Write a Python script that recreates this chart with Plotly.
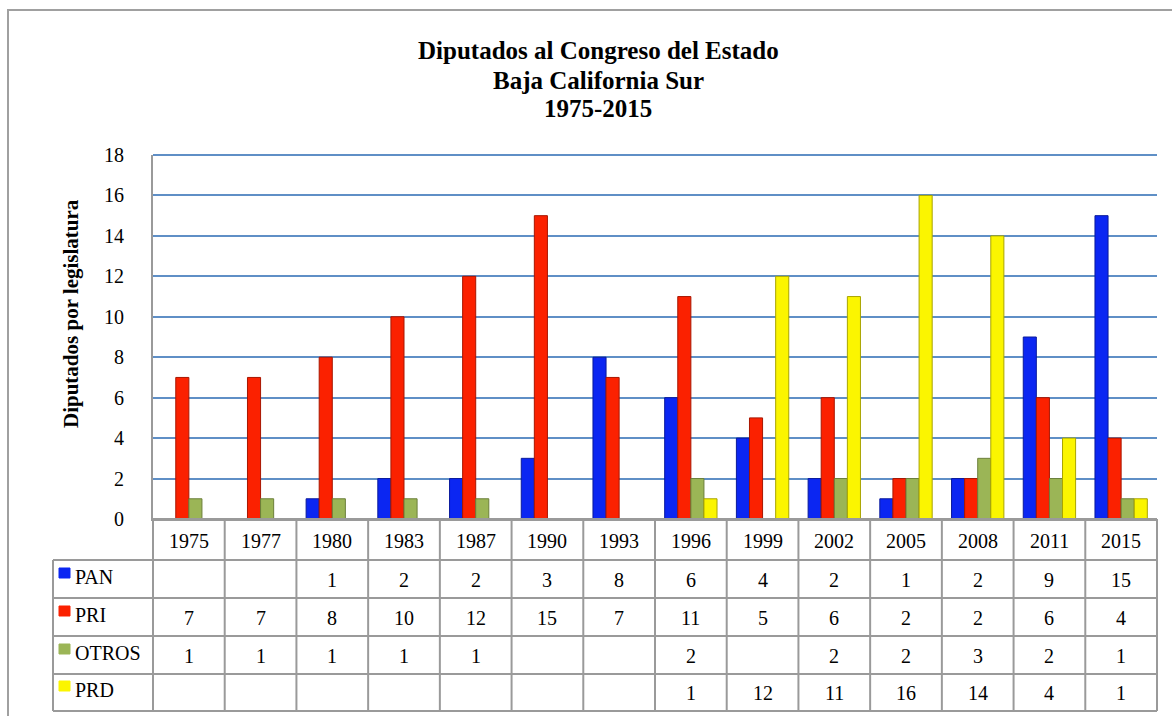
import plotly.graph_objects as go

# Data
years = ["1975", "1977", "1980", "1983", "1987", "1990", "1993",
         "1996", "1999", "2002", "2005", "2008", "2011", "2015"]
pan = [None, None, 1, 2, 2, 3, 8, 6, 4, 2, 1, 2, 9, 15]
pri = [7, 7, 8, 10, 12, 15, 7, 11, 5, 6, 2, 2, 6, 4]
otros = [1, 1, 1, 1, 1, None, None, 2, None, 2, 2, 3, 2, 1]
prd = [None, None, None, None, None, None, None, 1, 12, 11, 16, 14, 4, 1]

series_names = ["PAN", "PRI", "OTROS", "PRD"]
series_values = [pan, pri, otros, prd]
series_colors = ["#0b26f2", "#fb2100", "#9bb556", "#fbf500"]
edge_colors = ["#0a1a9c", "#a81600", "#6b7f3a", "#a9a400"]

title_lines = ["Diputados al Congreso del Estado", "Baja California Sur", "1975-2015"]

W, H = 1172, 716
PL, PR, PT, PB = 153, 1157, 155, 519  # plot area in pixels
GRID = "#9a9a9a"
FONT = "Liberation Serif"
TXT = 20


def fx(px):
    return (px - PL) / (PR - PL)


def fy(py):
    return (PB - py) / (PB - PT)


fig = go.Figure()

for name, vals, col, edge in zip(series_names, series_values, series_colors, edge_colors):
    fig.add_trace(go.Bar(
        x=years,
        y=vals,
        name=name,
        marker=dict(color=col, line=dict(color=edge, width=1)),
        showlegend=False,
    ))

shapes = []
annotations = []

# Outer chart border (cropped on right and bottom)
shapes.append(dict(type="rect", xref="paper", yref="paper",
                   x0=fx(8), x1=fx(1200), y0=fy(10), y1=fy(740),
                   line=dict(color="#a0a0a0", width=2), layer="below"))

# top gridline at 18 (plotly skips it at the range edge)
shapes.append(dict(type="line", xref="paper", yref="paper",
                   x0=0, x1=1, y0=1, y1=1,
                   line=dict(color="#5f8fc6", width=2), layer="below"))

# Data table grid
row_lines = [519, 560, 598, 636, 674, 711]
row_centers = [579, 617, 655, 692]
n = len(years)
for i in range(n + 1):
    xp = PL + i * (PR - PL) / n
    shapes.append(dict(type="line", xref="paper", yref="paper",
                       x0=fx(xp), x1=fx(xp), y0=fy(519), y1=fy(711),
                       line=dict(color=GRID, width=2)))
shapes.append(dict(type="line", xref="paper", yref="paper",
                   x0=fx(53), x1=fx(53), y0=fy(560), y1=fy(711),
                   line=dict(color=GRID, width=2)))
for k, yp in enumerate(row_lines):
    x_start = PL if k == 0 else 53
    shapes.append(dict(type="line", xref="paper", yref="paper",
                       x0=fx(x_start), x1=fx(PR), y0=fy(yp), y1=fy(yp),
                       line=dict(color=GRID, width=2)))

# Year header row (x given as category index on the category axis)
for i, yr in enumerate(years):
    annotations.append(dict(x=i, y=fy(541), xref="x", yref="paper",
                            text=yr, showarrow=False, yanchor="middle",
                            font=dict(family=FONT, size=TXT, color="black")))

# Legend keys and values
for name, vals, col, yc in zip(series_names, series_values, series_colors, row_centers):
    shapes.append(dict(type="rect", xref="paper", yref="paper",
                       x0=fx(59), x1=fx(70), y0=fy(yc - 11), y1=fy(yc - 1),
                       fillcolor=col, line=dict(color=col, width=1)))
    annotations.append(dict(x=fx(73), y=fy(yc - 2), xref="paper", yref="paper",
                            text=name, showarrow=False, xanchor="left", yanchor="middle",
                            font=dict(family=FONT, size=TXT, color="black")))
    for i, v in enumerate(vals):
        if v is None:
            continue
        annotations.append(dict(x=i, y=fy(yc + 1), xref="x", yref="paper",
                                text=str(v), showarrow=False, yanchor="middle",
                                font=dict(family=FONT, size=TXT, color="black")))

# Title, one annotation per line for tighter spacing
for line, yc in zip(title_lines, [51, 80, 108]):
    annotations.append(dict(
        x=fx(598), y=fy(yc), xref="paper", yref="paper",
        text=line, showarrow=False, yanchor="middle",
        font=dict(family=FONT, size=25, color="black", weight="bold")))

# Y axis title
annotations.append(dict(
    x=fx(57), y=fy(314), xref="paper", yref="paper",
    text="Diputados por legislatura", textangle=-90,
    showarrow=False, yanchor="middle",
    font=dict(family=FONT, size=21, color="black", weight="bold")))

fig.update_layout(
    width=W,
    height=H,
    barmode="group",
    bargap=0.27,
    bargroupgap=0,
    paper_bgcolor="white",
    plot_bgcolor="white",
    margin=dict(l=PL, r=W - PR, t=PT, b=H - PB, pad=0),
    shapes=shapes,
    annotations=annotations,
    showlegend=False,
    font=dict(family=FONT, size=TXT, color="black"),
)

fig.update_xaxes(
    type="category",
    range=[-0.5, len(years) - 0.5],
    showticklabels=False,
    showgrid=False,
    showline=True,
    linecolor=GRID,
    linewidth=2,
    ticks="",
    zeroline=False,
)
fig.update_yaxes(
    range=[0, 18],
    dtick=2,
    showgrid=True,
    gridcolor="#5f8fc6",
    gridwidth=2,
    showline=True,
    linecolor=GRID,
    linewidth=2,
    zeroline=False,
    ticks="",
    ticklabelstandoff=23,
    tickfont=dict(family=FONT, size=TXT, color="black"),
)

fig.write_html("out.html", config={"displayModeBar": False},
               post_script="document.body.style.margin='0';")
